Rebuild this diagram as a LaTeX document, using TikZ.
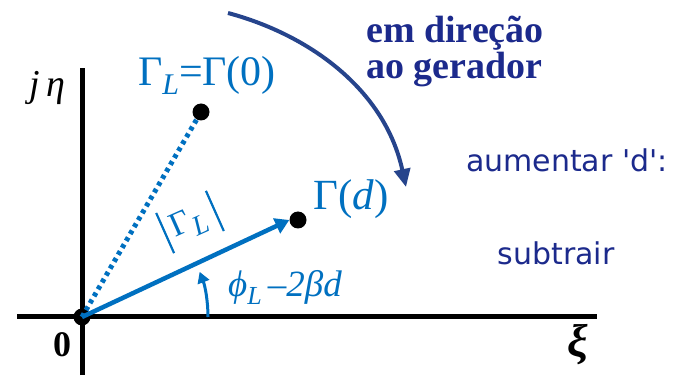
\documentclass[tikz,border=0pt]{standalone}
\usepackage{fontspec}
\setmainfont{Liberation Serif}
\newfontfamily\comicfont{DejaVu Sans}
\usetikzlibrary{arrows.meta}
\definecolor{vblue}{RGB}{0,112,192}
\definecolor{navy}{RGB}{28,42,140}
\definecolor{arcblue}{RGB}{38,68,140}
\tikzset{
  axis/.style={line width=5pt},
  dotnode/.style={circle,fill=black,inner sep=0pt,minimum size=17pt},
  vec/.style={vblue,line width=4.5pt,-{Triangle[length=14pt,width=16pt]}},
  dotted line/.style={vblue,line width=5pt,dash pattern=on 4pt off 4pt},
  bluelabel/.style={vblue,font=\fontsize{40}{42}\selectfont,inner sep=0pt},
  navylabel/.style={navy,font=\fontsize{38}{40}\selectfont\bfseries,inner sep=0pt,align=left},
  comiclabel/.style={navy,font=\fontsize{30}{32}\selectfont\comicfont,inner sep=0pt},
  blacklabel/.style={font=\fontsize{38}{40}\selectfont,inner sep=0pt}
}
\newcommand{\magbar}{\rule[-14pt]{2.2pt}{44pt}}
\begin{document}
\begin{tikzpicture}[x=1pt,y=1pt]
\useasboundingbox (0,0) rectangle (691,375);
% axes
\coordinate (xl) at (17,58);
\coordinate (xr) at (597,58);
\coordinate (yt) at (82,307);
\coordinate (yb) at (82,0);
\draw[axis] (xl) -- (xr);
\draw[axis] (yb) -- (yt);
% dots
\node[dotnode] (O) at (82,58) {};
\node[dotnode] (G0) at (201,263) {};
\node[dotnode] (Gd) at (298,155) {};
% connectors
\draw[dotted line] (O.center) -- (G0);
\draw[vec] (O.center) -- (Gd.west);
% angle arc
\coordinate (as) at (208,58);
\draw[vblue,line width=3pt,-{Triangle[length=11pt,width=12pt]}] (as) arc[start angle=0,end angle=21,radius=126];
% curved arrow
\coordinate (cs) at (228,362);
\coordinate (ce) at (406,188);
\draw[arcblue,line width=4pt,-{Triangle[length=18pt,width=16pt]}] (cs) .. controls (310,340) and (385,285) .. (ce);
% labels
\node[blacklabel] (jeta) at (47,287) {\itshape j\,η};
\node[blacklabel,font=\fontsize{36}{38}\selectfont\bfseries] (zero) at (62,30) {0};
\node[blacklabel,font=\fontsize{46}{48}\selectfont\bfseries\itshape] (xi) at (578,30) {ξ};
\node[bluelabel,font=\fontsize{42}{44}\selectfont] (GL) at (207,300) {Γ\raisebox{-9pt}{\fontsize{30}{32}\selectfont\itshape L}=Γ(0)};
\node[bluelabel,font=\fontsize{43}{45}\selectfont] (Gdl) at (351,176) {Γ(\textit{d})};
\node[bluelabel,rotate=24,font=\fontsize{34}{36}\selectfont] (mag) at (190,153) {\magbar\hspace{7pt}Γ\raisebox{-8pt}{\fontsize{28}{30}\selectfont\itshape L}\hspace{10pt}\magbar};
\node[bluelabel,font=\fontsize{37}{39}\selectfont\itshape] (phi) at (285,88) {ϕ\raisebox{-8pt}{\fontsize{26}{28}\selectfont L}\,–2βd};
\node[navylabel] (dir) at (455,324) {em direção\\[-4pt]ao gerador};
\node[comiclabel] (aum) at (567,215) {aumentar 'd':};
\node[comiclabel] (sub) at (556,122) {subtrair};
\end{tikzpicture}
\end{document}
